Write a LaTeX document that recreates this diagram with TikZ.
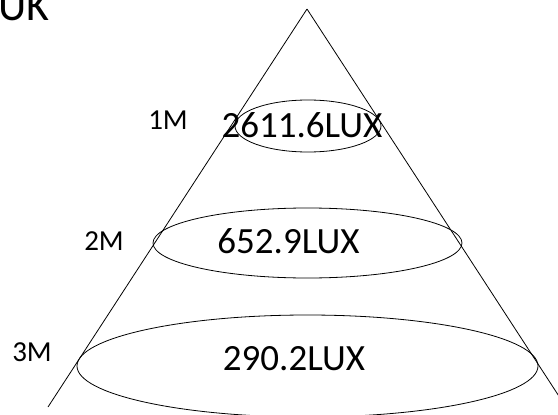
\documentclass[tikz,border=0pt]{standalone}
\usepackage{fontspec}
\setmainfont{Carlito}
\usepackage{tikz}
\usetikzlibrary{positioning}

\tikzset{
  luxlabel/.style={inner sep=0pt, font=\fontsize{37}{40}\selectfont},
  distlabel/.style={inner sep=0pt, font=\fontsize{29}{31}\selectfont},
  titlelabel/.style={inner sep=0pt, font=\fontsize{44}{46}\selectfont},
  beam/.style={line width=0.8pt}
}

\begin{document}
\begin{tikzpicture}[x=1pt, y=-1pt]
    % frame of the picture
    \useasboundingbox (0,0) rectangle (558,415);
    \clip (0,0) rectangle (558,415);

    % title, cut at the top
    \node[titlelabel, anchor=base east] (title) at (50,20) {UK};

    % the light cone
    \coordinate (apex) at (307,9);
    \coordinate (leftfoot) at (48,407);
    \coordinate (rightfoot) at (566,407);
    \draw[beam] (apex) -- (leftfoot);
    \draw[beam] (apex) -- (rightfoot);

    % the three light spots
    \draw[beam] (308,126) ellipse [x radius=73, y radius=26];
    \draw[beam] (307.5,243) ellipse [x radius=154.5, y radius=35];
    \draw[beam] (307.5,366) ellipse [x radius=230.5, y radius=51];

    % illuminance in each spot
    \node[luxlabel] (lux1) at (302,125) {2611.6LUX};
    \node[luxlabel] (lux2) at (288.5,241) {652.9LUX};
    \node[luxlabel] (lux3) at (294,359) {290.2LUX};

    % distance from the lamp
    \node[distlabel] (d1) at (168,120) {1M};
    \node[distlabel] (d2) at (104,241) {2M};
    \node[distlabel] (d3) at (32,352) {3M};

  \end{tikzpicture}
\end{document}
